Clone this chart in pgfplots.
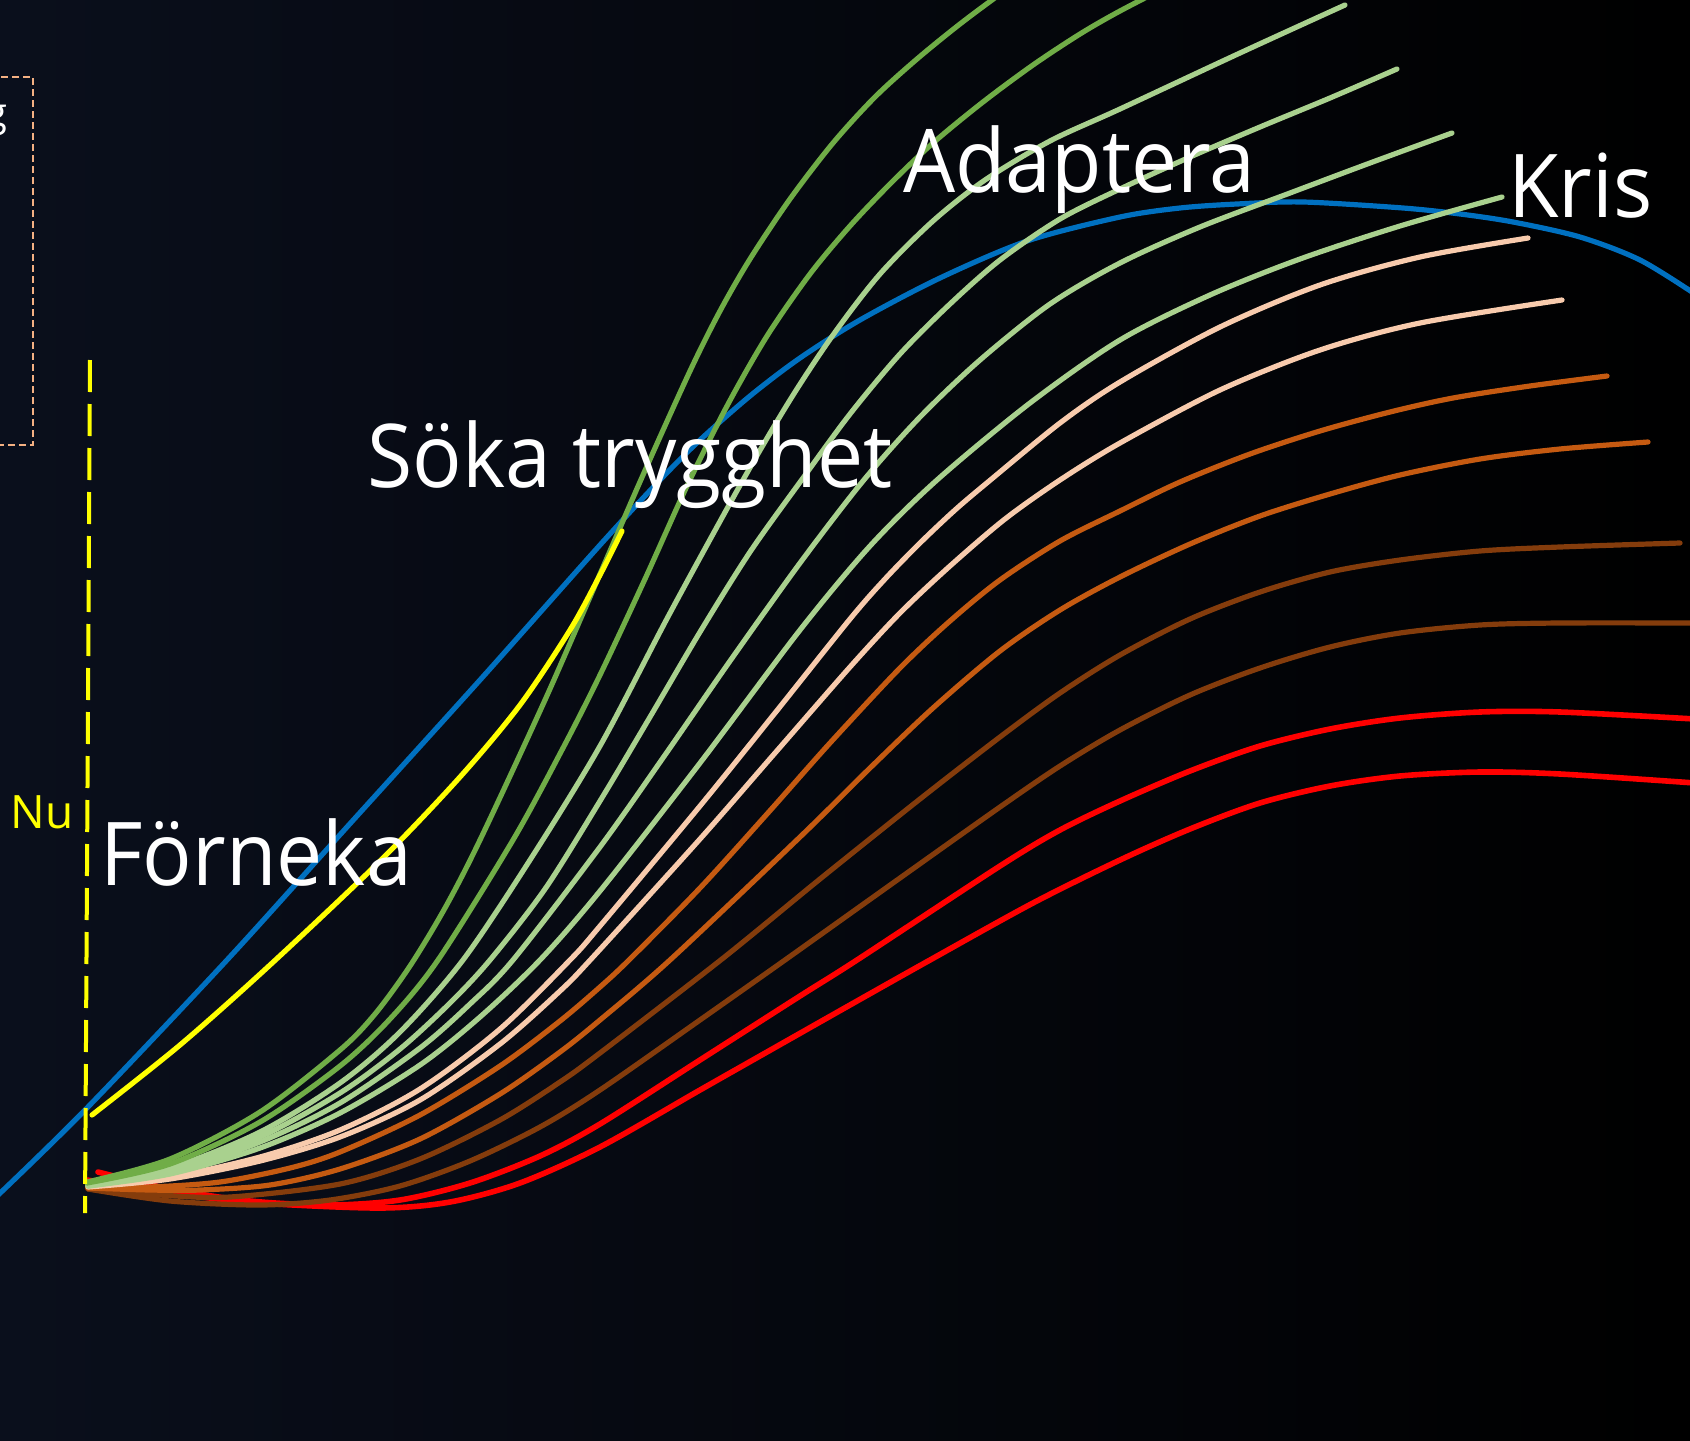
\documentclass[border=0pt]{standalone}
\usepackage{pgfplots}
\pgfplotsset{compat=1.18}
\usepackage{fontspec}
\setmainfont{Open Sans}
\newfontfamily\lab{Open Sans}[FakeStretch=0.935]

\definecolor{bgleft}{RGB}{10,15,28}
\definecolor{bgmid}{RGB}{5,7,15}
\definecolor{cblue}{HTML}{0070C0}
\definecolor{cyellow}{HTML}{FFFF00}
\definecolor{cdgreen}{HTML}{70AD47}
\definecolor{clgreen}{HTML}{A9D18E}
\definecolor{cpeach}{HTML}{F8CBAD}
\definecolor{corange}{HTML}{C55A11}
\definecolor{cbrown}{HTML}{843C0C}
\definecolor{cred}{HTML}{FF0000}
\definecolor{cbox}{HTML}{F4B183}

\begin{document}
\begin{tikzpicture}
\shade[left color=bgleft, middle color=bgmid, right color=black] (0,0) rectangle (845pt,720pt);
\begin{axis}[
    at={(0,0)}, anchor=south west,
    scale only axis, width=845pt, height=720pt,
    xmin=0, xmax=1690, ymin=0, ymax=1440,
    y dir=reverse,
    hide axis,
    every axis plot/.append style={smooth, line width=2.6pt, line cap=round},
]
% blå kurva
\addplot[cblue] coordinates {
    (-5,1198)(85,1110)(227,960)(347,827)(480,680)(600,545)(660,480)(700,440)
    (750,396)(800,358)(860,320)(940,278)(1027,241)(1120,217)(1180,208)(1237,204)
    (1303,202)(1403,208)(1460,214)(1513,222)(1580,237)(1640,260)(1695,294)};

% röda
\addplot[cred, line width=2.8pt] coordinates {
    (98,1172)(170,1189)(250,1201)(330,1205)(400,1200)(470,1183)(540,1156)(600,1124)
    (700,1060)(800,996)(857,960)(1000,866)(1060,830)(1120,801)(1190,771)(1260,746)
    (1330,729)(1400,718)(1480,712)(1560,712)(1695,719)};
\addplot[cred, line width=2.8pt] coordinates {
    (87,1180)(170,1193)(260,1203)(380,1208)(450,1202)(520,1183)(600,1147)(700,1090)
    (767,1052)(850,1005)(930,960)(1033,903)(1120,860)(1190,829)(1260,803)(1330,786)
    (1400,776)(1480,772)(1560,774)(1695,783)};

% bruna
\addplot[cbrown] coordinates {
    (88,1189)(170,1201)(260,1205)(330,1200)(400,1186)(470,1161)(540,1127)(600,1090)
    (700,1020)(785,960)(900,878)(1000,807)(1060,766)(1120,730)(1190,695)(1260,668)
    (1330,647)(1400,633)(1480,625)(1560,623)(1695,623)};
\addplot[cbrown] coordinates {
    (88,1189)(160,1195)(230,1197)(340,1184)(420,1159)(500,1120)(560,1082)(600,1053)
    (722,959)(820,879)(920,799)(1000,737)(1060,693)(1120,655)(1190,619)(1260,592)
    (1330,572)(1400,560)(1480,551)(1560,547)(1680,543)};

% orange
\addplot[corange] coordinates {
    (88,1188)(150,1190)(200,1190)(270,1185)(340,1169)(420,1139)(500,1094)(560,1052)
    (600,1020)(670,960)(800,837)(870,768)(933,708)(1000,651)(1060,610)(1120,577)
    (1190,544)(1260,516)(1330,494)(1400,475)(1480,459)(1560,449)(1648,442)};
\addplot[corange] coordinates {
    (88,1188)(150,1187)(220,1182)(290,1168)(340,1152)(420,1115)(500,1066)(560,1021)
    (600,987)(630,959)(700,888)(767,814)(830,743)(900,668)(950,621)(1000,580)
    (1060,541)(1120,511)(1180,482)(1250,454)(1320,431)(1390,412)(1453,398)(1530,386)(1607,376)};

% persika
\addplot[cpeach] coordinates {
    (88,1187)(170,1179)(260,1161)(340,1137)(420,1100)(500,1044)(560,991)(593,957)
    (700,839)(775,753)(850,667)(900,613)(950,566)(1005,519)(1060,480)(1120,443)
    (1220,390)(1320,350)(1420,323)(1562,300)};
\addplot[cpeach] coordinates {
    (88,1186)(170,1177)(260,1157)(340,1130)(420,1089)(500,1029)(570,960)(600,926)
    (700,806)(775,713)(850,619)(885,579)(920,543)(955,510)(988,482)(1060,423)
    (1120,382)(1220,327)(1320,285)(1420,257)(1528,238)};

% ljusgröna
\addplot[clgreen] coordinates {
    (88,1186)(170,1174)(260,1148)(340,1113)(420,1065)(480,1017)(540,960)(600,891)
    (700,763)(800,630)(870,546)(937,480)(1030,403)(1120,340)(1210,295)(1300,259)
    (1400,226)(1502,197)};
\addplot[clgreen] coordinates {
    (88,1186)(170,1172)(260,1142)(340,1103)(420,1048)(470,1004)(513,960)(600,847)
    (665,755)(730,661)(800,563)(863,481)(920,417)(980,360)(1050,304)(1120,263)
    (1200,227)(1290,193)(1370,163)(1452,133)};
\addplot[clgreen] coordinates {
    (88,1185)(170,1170)(260,1137)(340,1093)(400,1049)(450,1003)(490,960)(545,889)
    (600,801)(650,717)(700,632)(750,552)(803,478)(850,414)(900,354)(950,304)
    (1000,260)(1060,219)(1120,189)(1190,157)(1260,127)(1330,98)(1397,69)};
\addplot[clgreen] coordinates {
    (88,1184)(170,1168)(260,1132)(340,1083)(400,1032)(463,960)(530,860)(600,746)
    (670,613)(743,480)(790,400)(833,335)(880,274)(933,221)(985,180)(1050,141)
    (1120,109)(1240,53)(1345,5)};

% mörkgröna
\addplot[cdgreen] coordinates {
    (87,1183)(170,1164)(260,1122)(340,1066)(390,1019)(438,960)(513,840)(563,748)
    (600,675)(645,579)(687,486)(727,406)(767,336)(810,274)(850,226)(890,184)
    (933,143)(983,102)(1033,65)(1080,34)(1120,11)(1180,-20)};
\addplot[cdgreen] coordinates {
    (87,1182)(170,1159)(260,1112)(340,1050)(375,1014)(410,966)(445,908)(480,840)
    (545,700)(600,574)(643,475)(690,371)(720,311)(750,259)(790,199)(833,143)
    (875,97)(917,59)(960,24)(1003,-8)(1050,-41)};

% gul
\addplot[cyellow] coordinates {
    (92,1115)(180,1045)(270,965)(380,861)(460,777)(520,705)(570,630)(600,575)(622,531)};

% Nu-linje
\addplot[cyellow, sharp plot, line width=2pt, line cap=butt, dash pattern=on 16pt off 6pt]
    coordinates {(90,360)(85,1213)};

% streckad ruta uppe till vänster
\draw[cbox, line width=1pt, dash pattern=on 3.5pt off 2pt]
    (axis cs:-20,77) rectangle (axis cs:33,445);
\node[anchor=base east, inner sep=0pt, text=white, font=\fontsize{20pt}{24pt}\selectfont]
    at (axis cs:8,127) {g};

% etiketter
\node[anchor=base east, inner sep=0pt, text=cyellow, font=\fontsize{23pt}{28pt}\selectfont]
    at (axis cs:74,828) {Nu};
\node[anchor=base west, inner sep=0pt, text=white, font=\lab\fontsize{44pt}{50pt}\selectfont]
    at (axis cs:100,885) {Förneka};
\node[anchor=base west, inner sep=0pt, text=white, font=\lab\fontsize{44pt}{50pt}\selectfont]
    at (axis cs:367,487) {Söka trygghet};
\node[anchor=base west, inner sep=0pt, text=white, font=\lab\fontsize{44pt}{50pt}\selectfont]
    at (axis cs:903,192) {Adaptera};
\node[anchor=base west, inner sep=0pt, text=white, font=\lab\fontsize{44pt}{50pt}\selectfont]
    at (axis cs:1508,217) {Kris};
\end{axis}
\pgfresetboundingbox
\path[use as bounding box] (0,0) rectangle (845pt,720pt);
\end{tikzpicture}
\end{document}
